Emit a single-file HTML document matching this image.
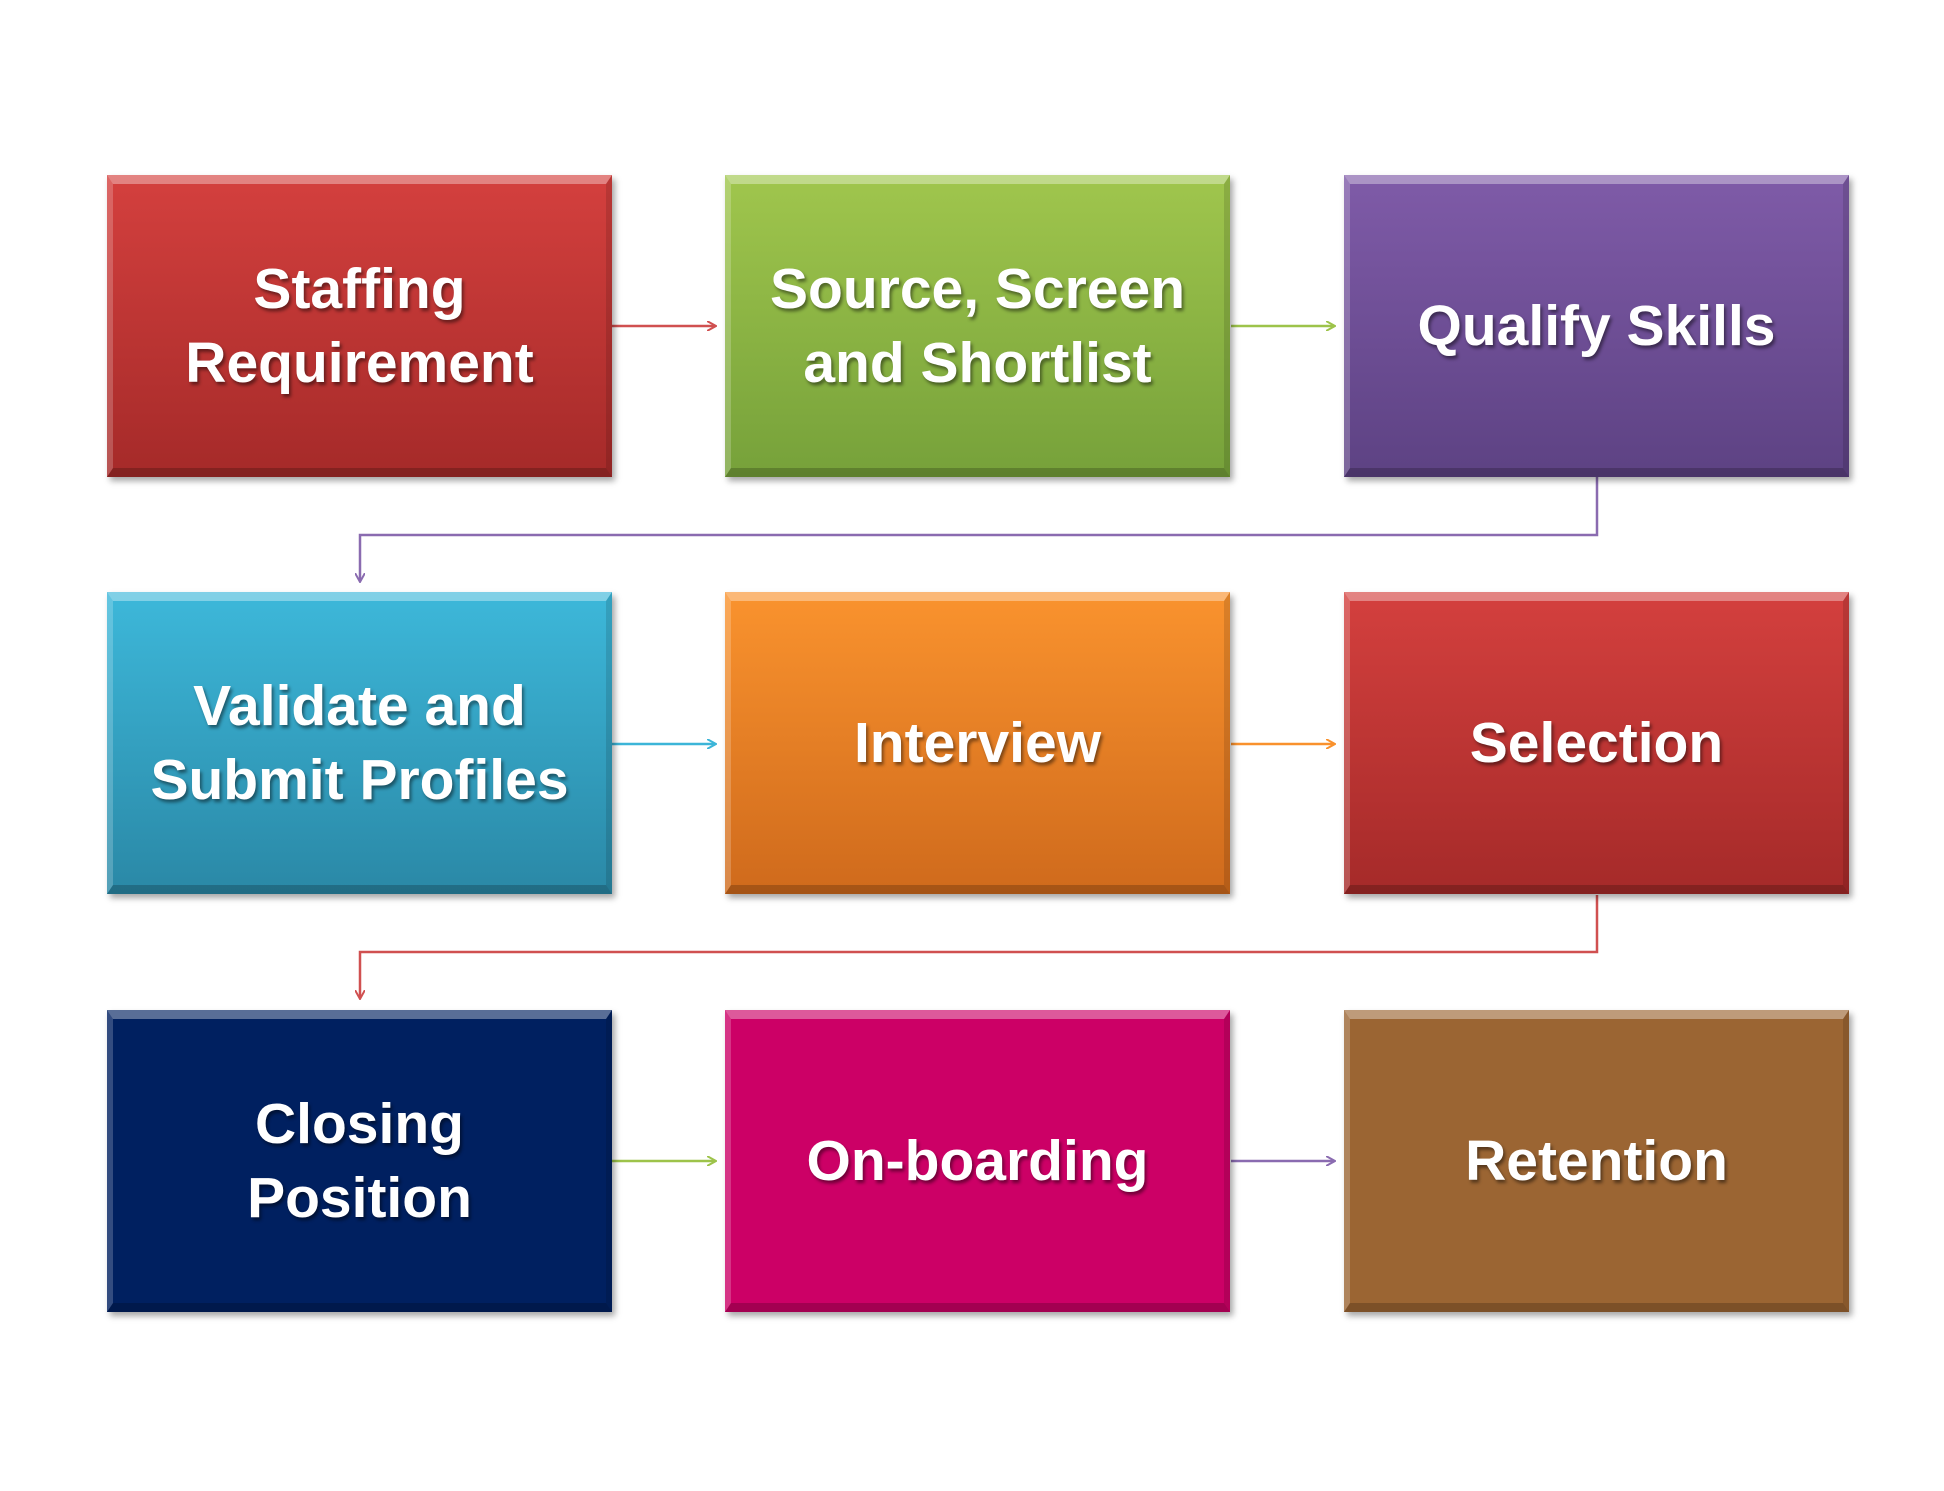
<!DOCTYPE html>
<html><head><meta charset="utf-8"><style>
html,body{margin:0;padding:0;background:#fff;}
body{width:1944px;height:1491px;position:relative;overflow:hidden;font-family:"Liberation Sans",sans-serif;}
.b{position:absolute;width:505px;height:302px;box-sizing:border-box;display:flex;align-items:center;justify-content:center;text-align:center;color:#fff;font-weight:bold;font-size:57px;line-height:74px;text-shadow:2px 3px 3px rgba(0,0,0,0.45);box-shadow:3px 4px 6px rgba(0,0,0,0.35);}
.b::before{content:"";position:absolute;inset:0;border-top:9px solid rgba(255,255,255,0.35);border-left:6px solid rgba(255,255,255,0.2);border-right:6px solid rgba(0,0,0,0.12);border-bottom:9px solid rgba(0,0,0,0.2);}
.b span{position:relative}
svg{position:absolute;left:0;top:0}
</style></head><body>
<svg width="1944" height="1491">
<defs>
<marker id="m" markerWidth="10" markerHeight="10" refX="8" refY="5" orient="auto" markerUnits="userSpaceOnUse"><path d="M0,0 L9,5 L0,10" fill="none" stroke="context-stroke" stroke-width="2"/></marker>
</defs>
<g stroke-width="2.5" fill="none">
<line x1="612" y1="326" x2="715" y2="326" stroke="#d05050" marker-end="url(#m)"/>
<line x1="1231" y1="326" x2="1334" y2="326" stroke="#9dc34a" marker-end="url(#m)"/>
<polyline points="1597,477 1597,535 360,535 360,581" stroke="#8a6bb0" marker-end="url(#m)"/>
<line x1="612" y1="744" x2="715" y2="744" stroke="#3cb5d8" marker-end="url(#m)"/>
<line x1="1231" y1="744" x2="1334" y2="744" stroke="#f9912d" marker-end="url(#m)"/>
<polyline points="1597,895 1597,952 360,952 360,998" stroke="#d05050" marker-end="url(#m)"/>
<line x1="612" y1="1161" x2="715" y2="1161" stroke="#9dc34a" marker-end="url(#m)"/>
<line x1="1231" y1="1161" x2="1334" y2="1161" stroke="#8a6bb0" marker-end="url(#m)"/>
</g>
</svg>
<div class="b" style="left:107px;top:175px;background:linear-gradient(#d4403e,#a52a29)"><span>Staffing<br>Requirement</span></div>
<div class="b" style="left:725px;top:175px;background:linear-gradient(#a0c64d,#76a13a)"><span>Source, Screen<br>and Shortlist</span></div>
<div class="b" style="left:1344px;top:175px;background:linear-gradient(#7f5ba8,#5d4283)"><span>Qualify Skills</span></div>
<div class="b" style="left:107px;top:592px;background:linear-gradient(#3db8da,#2a88a6)"><span>Validate and<br>Submit Profiles</span></div>
<div class="b" style="left:725px;top:592px;background:linear-gradient(#fa932e,#cf6a1c)"><span>Interview</span></div>
<div class="b" style="left:1344px;top:592px;background:linear-gradient(#d4403e,#a52a29)"><span>Selection</span></div>
<div class="b" style="left:107px;top:1010px;background:#002060"><span>Closing<br>Position</span></div>
<div class="b" style="left:725px;top:1010px;background:#cc0066"><span>On-boarding</span></div>
<div class="b" style="left:1344px;top:1010px;background:#9b6533"><span>Retention</span></div>
</body></html>
